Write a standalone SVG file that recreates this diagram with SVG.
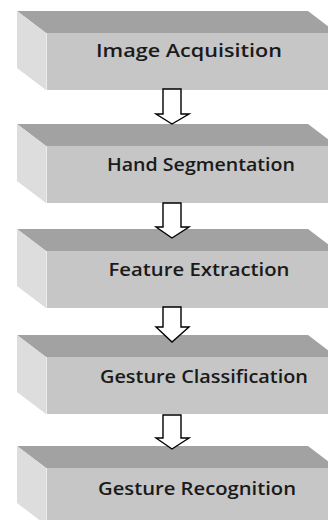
<svg xmlns="http://www.w3.org/2000/svg" width="328" height="520" viewBox="0 0 328 520">
<defs>
<style>
.top{fill:#a2a2a2}
.front{fill:#c6c6c6}
.side{fill:#dddddd}
.edge{fill:none;stroke:#ececec;stroke-width:1}
.lbl{font-family:"Open Sans","Liberation Sans",sans-serif;font-size:17.5px;font-weight:600;fill:#1a1a1a;text-anchor:middle}
.arr{fill:#ffffff;stroke:#000000;stroke-width:1.4;stroke-linejoin:miter}
</style>
<g id="box">
<polygon class="top" points="17,0 308,0 337,22 46,22"/>
<rect class="front" x="46" y="22" width="282" height="57"/>
<polygon class="side" points="17,0 46,22 46,79 17,57"/>
<line class="edge" x1="46.5" y1="22" x2="46.5" y2="79"/>
</g>
</defs>
<rect width="328" height="520" fill="#ffffff"/>
<g id="n1">
<use href="#box" transform="translate(0,11)"/>
<text class="lbl" x="189" y="57" textLength="186" lengthAdjust="spacingAndGlyphs">Image Acquisition</text>
</g>
<g id="n2">
<use href="#box" transform="translate(0,124)"/>
<text class="lbl" x="201" y="171" textLength="188" lengthAdjust="spacingAndGlyphs">Hand Segmentation</text>
</g>
<g id="n3">
<use href="#box" transform="translate(0,229)"/>
<text class="lbl" x="199" y="276" textLength="181" lengthAdjust="spacingAndGlyphs">Feature Extraction</text>
</g>
<g id="n4">
<use href="#box" transform="translate(0,335)"/>
<text class="lbl" x="204" y="383" textLength="208" lengthAdjust="spacingAndGlyphs">Gesture Classification</text>
</g>
<g id="n5">
<use href="#box" transform="translate(0,446)"/>
<text class="lbl" x="197" y="495" textLength="198" lengthAdjust="spacingAndGlyphs">Gesture Recognition</text>
</g>
<g id="connectors">
<polygon class="arr" points="163,89 181,89 181,114 189,114 172,124 156,114 163,114"/>
<polygon class="arr" points="163,203 181,203 181,227 189,227 172,238 156,227 163,227"/>
<polygon class="arr" points="163,307 181,307 181,327 189,327 172,342 156,327 163,327"/>
<polygon class="arr" points="163,415 181,415 181,438 189,438 172,449 156,438 163,438"/>
</g>
</svg>
